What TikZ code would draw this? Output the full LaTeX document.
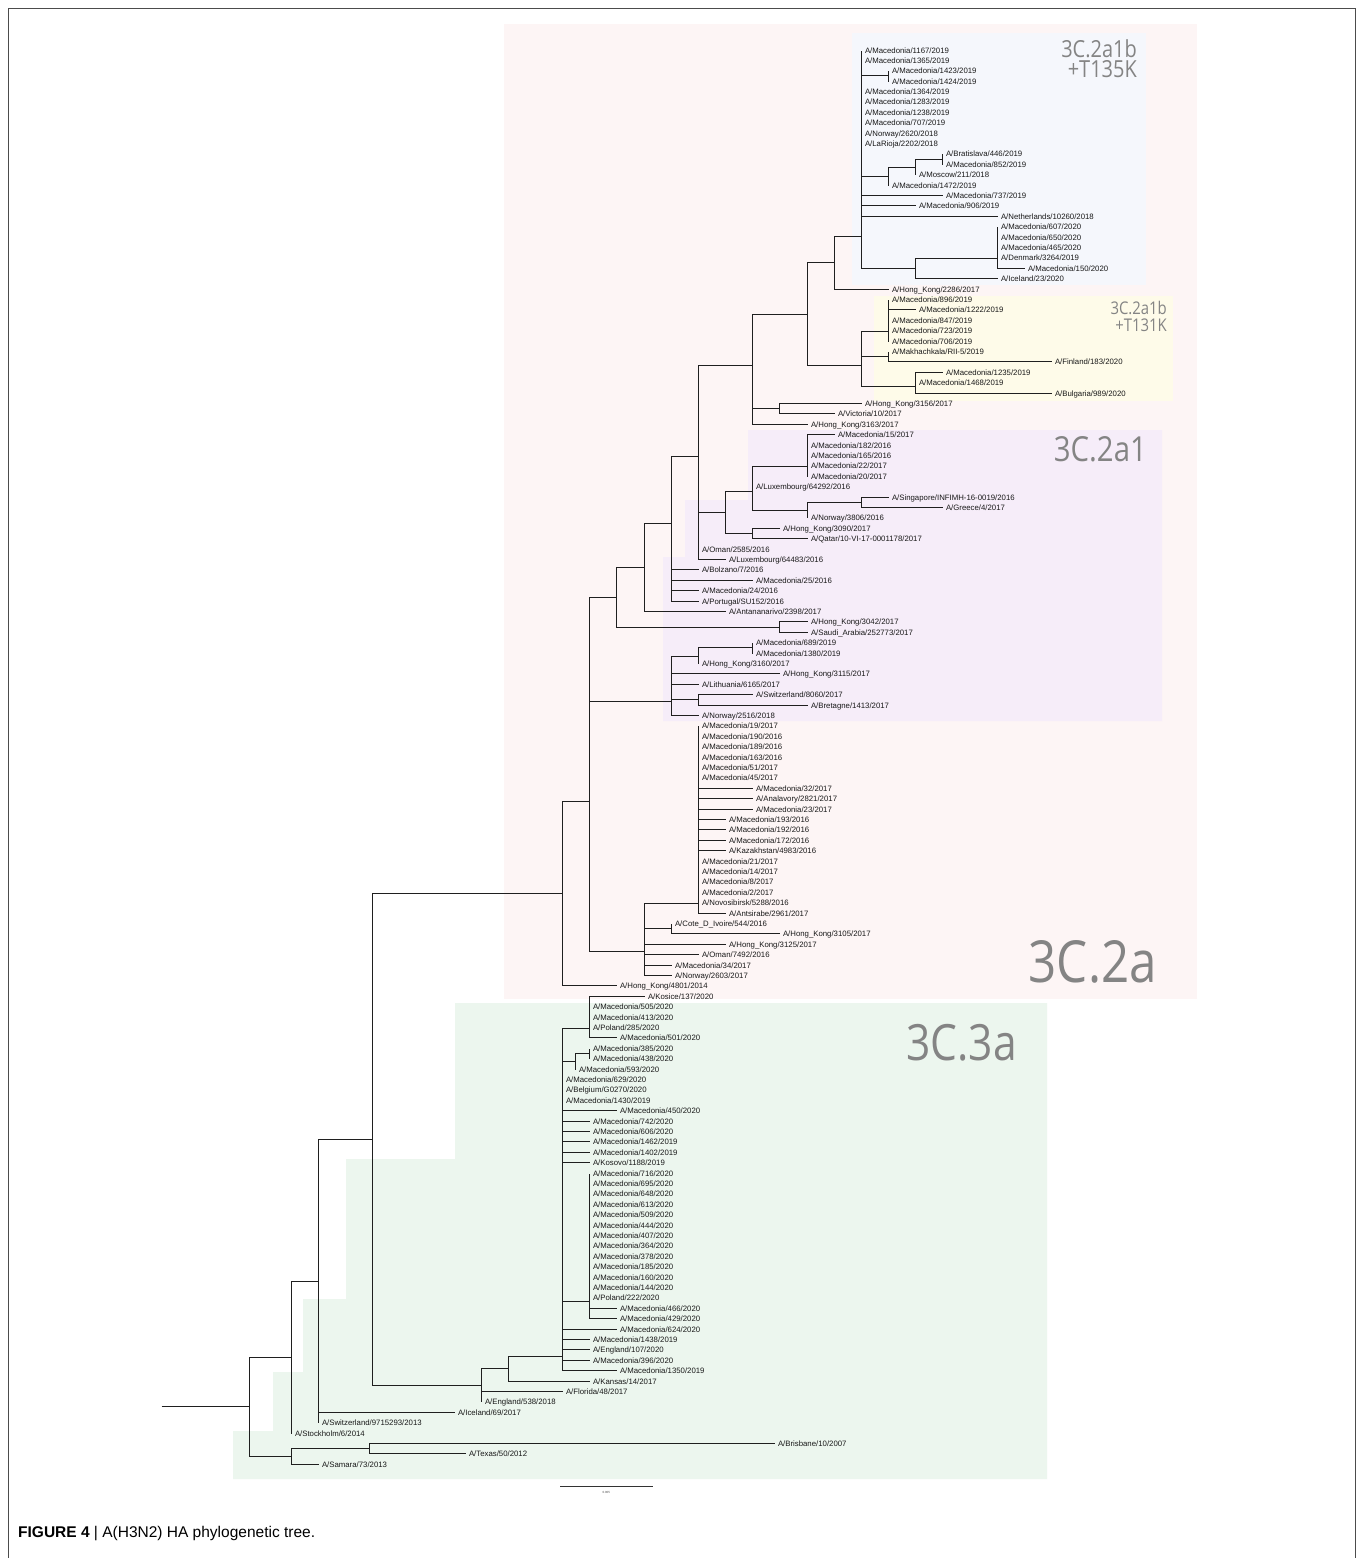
\documentclass[tikz,border=0pt]{standalone}
\usepackage{fontspec}
\setmainfont{Liberation Sans}
\newfontfamily\labfam{Liberation Sans}
\newfontfamily\cladefam[FakeStretch=0.85]{Open Sans}
\definecolor{pinkbg}{RGB}{253,245,245}
\definecolor{bluebg}{RGB}{245,247,252}
\definecolor{yellowbg}{RGB}{254,251,233}
\definecolor{purplebg}{RGB}{246,237,249}
\definecolor{greenbg}{RGB}{236,246,238}
\definecolor{cladegray}{RGB}{132,132,132}
\tikzset{
  br/.style={line width=1.35pt, draw=black!88},
  lab/.style={anchor=west, inner xsep=3.3pt, inner ysep=0pt, text height=5.6pt, text depth=0pt,
              font=\labfam\fontsize{7.8}{8}\selectfont, text=black!90},
  clade/.style={inner sep=0pt, text=cladegray, anchor=base east},
  frame/.style={line width=0.8pt, draw=black!70}
}
\pgfmathdeclarefunction{sn}{1}{\pgfmathparse{floor(#1)+0.5}}
\pgfmathdeclarefunction{gx}{1}{\pgfmathparse{floor(562.7+27.15*#1)+0.5}}
\pgfmathdeclarefunction{ly}{1}{\pgfmathparse{floor(50+(#1-1)*10.4)+0.5}}
\newcommand\lf[4]{\node[lab] (#1) at ({#3},{ly(#2)}) {#4};}
\newcommand\edges[2]{\draw[br] foreach \ch in {#2}{(#1) |- (\ch.west)};}
\newcommand\edgerange[3]{\draw[br] foreach \nn in {#2,...,#3}{(#1) |- (l\nn.west)};}
\begin{document}
\begin{tikzpicture}[x=1pt,y=-1pt]
\useasboundingbox (0,0) rectangle (1363,1558);
\fill[white] (0,0) rectangle (1363,1558);
% frame
\draw[frame] (8.5,1558) -- (8.5,8.5) -- (1355.5,8.5) -- (1355.5,1558);
% backgrounds
\fill[pinkbg] (504,24) rectangle (1197,999);
\fill[bluebg] (852,33) rectangle (1146,285);
\fill[yellowbg] (874,296) rectangle (1173,401);
\fill[purplebg] (748,430) -- (1162,430) -- (1162,721) -- (663,721) -- (663,557) -- (685,557) -- (685,500) -- (748,500) -- cycle;
\fill[greenbg] (455,1003) -- (1047,1003) -- (1047,1479) -- (233,1479) -- (233,1431) -- (273,1431) -- (273,1372) -- (303,1372) -- (303,1299) -- (346,1299) -- (346,1159) -- (455,1159) -- cycle;
% clade labels
\node[clade, font=\cladefam\fontsize{23.5}{23}\selectfont] (cl1a) at (1137,57) {3C.2a1b};
\node[clade, font=\cladefam\fontsize{23.5}{23}\selectfont] (cl1b) at (1137,77.5) {+T135K};
\node[clade, font=\cladefam\fontsize{17.5}{17}\selectfont] (cl2a) at (1167,314.5) {3C.2a1b};
\node[clade, font=\cladefam\fontsize{17.5}{17}\selectfont] (cl2b) at (1167,331.5) {+T131K};
\node[clade, font=\cladefam\fontsize{34.5}{35}\selectfont] (cl3) at (1147,461) {3C.2a1};
\node[clade, font=\cladefam\fontsize{58}{58}\selectfont] (cl4) at (1157,982) {3C.2a};
\node[clade, font=\cladefam\fontsize{50}{50}\selectfont] (cl5) at (1017,1060) {3C.3a};
% ---------------- leaves ----------------
\lf{l1}{1}{gx(11)}{A/Macedonia/1167/2019}
\lf{l2}{2}{gx(11)}{A/Macedonia/1365/2019}
\lf{l3}{3}{gx(12)}{A/Macedonia/1423/2019}
\lf{l4}{4}{gx(12)}{A/Macedonia/1424/2019}
\lf{l5}{5}{gx(11)}{A/Macedonia/1364/2019}
\lf{l6}{6}{gx(11)}{A/Macedonia/1283/2019}
\lf{l7}{7}{gx(11)}{A/Macedonia/1238/2019}
\lf{l8}{8}{gx(11)}{A/Macedonia/707/2019}
\lf{l9}{9}{gx(11)}{A/Norway/2620/2018}
\lf{l10}{10}{gx(11)}{A/LaRioja/2202/2018}
\lf{l11}{11}{gx(14)}{A/Bratislava/446/2019}
\lf{l12}{12}{gx(14)}{A/Macedonia/852/2019}
\lf{l13}{13}{gx(13)}{A/Moscow/211/2018}
\lf{l14}{14}{gx(12)}{A/Macedonia/1472/2019}
\lf{l15}{15}{gx(14)}{A/Macedonia/737/2019}
\lf{l16}{16}{gx(13)}{A/Macedonia/906/2019}
\lf{l17}{17}{gx(16)}{A/Netherlands/10260/2018}
\lf{l18}{18}{gx(16)}{A/Macedonia/607/2020}
\lf{l19}{19}{gx(16)}{A/Macedonia/650/2020}
\lf{l20}{20}{gx(16)}{A/Macedonia/465/2020}
\lf{l21}{21}{gx(16)}{A/Denmark/3264/2019}
\lf{l22}{22}{gx(17)}{A/Macedonia/150/2020}
\lf{l23}{23}{gx(16)}{A/Iceland/23/2020}
\lf{l24}{24}{gx(12)}{A/Hong\_Kong/2286/2017}
\lf{l25}{25}{gx(12)}{A/Macedonia/896/2019}
\lf{l26}{26}{gx(13)}{A/Macedonia/1222/2019}
\lf{l27}{27}{gx(12)}{A/Macedonia/847/2019}
\lf{l28}{28}{gx(12)}{A/Macedonia/723/2019}
\lf{l29}{29}{gx(12)}{A/Macedonia/706/2019}
\lf{l30}{30}{gx(12)}{A/Makhachkala/RII-5/2019}
\lf{l31}{31}{gx(18)}{A/Finland/183/2020}
\lf{l32}{32}{gx(14)}{A/Macedonia/1235/2019}
\lf{l33}{33}{gx(13)}{A/Macedonia/1468/2019}
\lf{l34}{34}{gx(18)}{A/Bulgaria/989/2020}
\lf{l35}{35}{gx(11)}{A/Hong\_Kong/3156/2017}
\lf{l36}{36}{gx(10)}{A/Victoria/10/2017}
\lf{l37}{37}{gx(9)}{A/Hong\_Kong/3163/2017}
\lf{l38}{38}{gx(10)}{A/Macedonia/15/2017}
\lf{l39}{39}{gx(9)}{A/Macedonia/182/2016}
\lf{l40}{40}{gx(9)}{A/Macedonia/165/2016}
\lf{l41}{41}{gx(9)}{A/Macedonia/22/2017}
\lf{l42}{42}{gx(9)}{A/Macedonia/20/2017}
\lf{l43}{43}{gx(7)}{A/Luxembourg/64292/2016}
\lf{l44}{44}{gx(12)}{A/Singapore/INFIMH-16-0019/2016}
\lf{l45}{45}{gx(14)}{A/Greece/4/2017}
\lf{l46}{46}{gx(9)}{A/Norway/3806/2016}
\lf{l47}{47}{gx(8)}{A/Hong\_Kong/3090/2017}
\lf{l48}{48}{gx(9)}{A/Qatar/10-VI-17-0001178/2017}
\lf{l49}{49}{gx(5)}{A/Oman/2585/2016}
\lf{l50}{50}{gx(6)}{A/Luxembourg/64483/2016}
\lf{l51}{51}{gx(5)}{A/Bolzano/7/2016}
\lf{l52}{52}{gx(7)}{A/Macedonia/25/2016}
\lf{l53}{53}{gx(5)}{A/Macedonia/24/2016}
\lf{l54}{54}{gx(5)}{A/Portugal/SU152/2016}
\lf{l55}{55}{gx(6)}{A/Antananarivo/2398/2017}
\lf{l56}{56}{gx(9)}{A/Hong\_Kong/3042/2017}
\lf{l57}{57}{gx(9)}{A/Saudi\_Arabia/252773/2017}
\lf{l58}{58}{gx(7)}{A/Macedonia/689/2019}
\lf{l59}{59}{gx(7)}{A/Macedonia/1380/2019}
\lf{l60}{60}{gx(5)}{A/Hong\_Kong/3160/2017}
\lf{l61}{61}{gx(8)}{A/Hong\_Kong/3115/2017}
\lf{l62}{62}{gx(5)}{A/Lithuania/6165/2017}
\lf{l63}{63}{gx(7)}{A/Switzerland/8060/2017}
\lf{l64}{64}{gx(9)}{A/Bretagne/1413/2017}
\lf{l65}{65}{gx(5)}{A/Norway/2516/2018}
\lf{l66}{66}{gx(5)}{A/Macedonia/19/2017}
\lf{l67}{67}{gx(5)}{A/Macedonia/190/2016}
\lf{l68}{68}{gx(5)}{A/Macedonia/189/2016}
\lf{l69}{69}{gx(5)}{A/Macedonia/163/2016}
\lf{l70}{70}{gx(5)}{A/Macedonia/51/2017}
\lf{l71}{71}{gx(5)}{A/Macedonia/45/2017}
\lf{l72}{72}{gx(7)}{A/Macedonia/32/2017}
\lf{l73}{73}{gx(7)}{A/Analavory/2821/2017}
\lf{l74}{74}{gx(7)}{A/Macedonia/23/2017}
\lf{l75}{75}{gx(6)}{A/Macedonia/193/2016}
\lf{l76}{76}{gx(6)}{A/Macedonia/192/2016}
\lf{l77}{77}{gx(6)}{A/Macedonia/172/2016}
\lf{l78}{78}{gx(6)}{A/Kazakhstan/4983/2016}
\lf{l79}{79}{gx(5)}{A/Macedonia/21/2017}
\lf{l80}{80}{gx(5)}{A/Macedonia/14/2017}
\lf{l81}{81}{gx(5)}{A/Macedonia/8/2017}
\lf{l82}{82}{gx(5)}{A/Macedonia/2/2017}
\lf{l83}{83}{gx(5)}{A/Novosibirsk/5288/2016}
\lf{l84}{84}{gx(6)}{A/Antsirabe/2961/2017}
\lf{l85}{85}{gx(4)}{A/Cote\_D\_Ivoire/544/2016}
\lf{l86}{86}{gx(8)}{A/Hong\_Kong/3105/2017}
\lf{l87}{87}{gx(6)}{A/Hong\_Kong/3125/2017}
\lf{l88}{88}{gx(5)}{A/Oman/7492/2016}
\lf{l89}{89}{gx(4)}{A/Macedonia/34/2017}
\lf{l90}{90}{gx(4)}{A/Norway/2603/2017}
\lf{l91}{91}{gx(2)}{A/Hong\_Kong/4801/2014}
\lf{l92}{92}{gx(3)}{A/Kosice/137/2020}
\lf{l93}{93}{gx(1)}{A/Macedonia/505/2020}
\lf{l94}{94}{gx(1)}{A/Macedonia/413/2020}
\lf{l95}{95}{gx(1)}{A/Poland/285/2020}
\lf{l96}{96}{gx(2)}{A/Macedonia/501/2020}
\lf{l97}{97}{gx(1)}{A/Macedonia/385/2020}
\lf{l98}{98}{gx(1)}{A/Macedonia/438/2020}
\lf{l99}{99}{575.5}{A/Macedonia/593/2020}
\lf{l100}{100}{gx(0)}{A/Macedonia/629/2020}
\lf{l101}{101}{gx(0)}{A/Belgium/G0270/2020}
\lf{l102}{102}{gx(0)}{A/Macedonia/1430/2019}
\lf{l103}{103}{gx(2)}{A/Macedonia/450/2020}
\lf{l104}{104}{gx(1)}{A/Macedonia/742/2020}
\lf{l105}{105}{gx(1)}{A/Macedonia/606/2020}
\lf{l106}{106}{gx(1)}{A/Macedonia/1462/2019}
\lf{l107}{107}{gx(1)}{A/Macedonia/1402/2019}
\lf{l108}{108}{gx(1)}{A/Kosovo/1188/2019}
\lf{l109}{109}{gx(1)}{A/Macedonia/716/2020}
\lf{l110}{110}{gx(1)}{A/Macedonia/695/2020}
\lf{l111}{111}{gx(1)}{A/Macedonia/648/2020}
\lf{l112}{112}{gx(1)}{A/Macedonia/613/2020}
\lf{l113}{113}{gx(1)}{A/Macedonia/509/2020}
\lf{l114}{114}{gx(1)}{A/Macedonia/444/2020}
\lf{l115}{115}{gx(1)}{A/Macedonia/407/2020}
\lf{l116}{116}{gx(1)}{A/Macedonia/364/2020}
\lf{l117}{117}{gx(1)}{A/Macedonia/378/2020}
\lf{l118}{118}{gx(1)}{A/Macedonia/185/2020}
\lf{l119}{119}{gx(1)}{A/Macedonia/160/2020}
\lf{l120}{120}{gx(1)}{A/Macedonia/144/2020}
\lf{l121}{121}{gx(1)}{A/Poland/222/2020}
\lf{l122}{122}{gx(2)}{A/Macedonia/466/2020}
\lf{l123}{123}{gx(2)}{A/Macedonia/429/2020}
\lf{l124}{124}{gx(2)}{A/Macedonia/624/2020}
\lf{l125}{125}{gx(1)}{A/Macedonia/1438/2019}
\lf{l126}{126}{gx(1)}{A/England/107/2020}
\lf{l127}{127}{gx(1)}{A/Macedonia/396/2020}
\lf{l128}{128}{gx(2)}{A/Macedonia/1350/2019}
\lf{l129}{129}{gx(1)}{A/Kansas/14/2017}
\lf{l130}{130}{gx(0)}{A/Florida/48/2017}
\lf{l131}{131}{gx(-3)}{A/England/538/2018}
\lf{l132}{132}{gx(-4)}{A/Iceland/69/2017}
\lf{l133}{133}{gx(-9)}{A/Switzerland/9715293/2013}
\lf{l134}{134}{gx(-10)}{A/Stockholm/6/2014}
\lf{l135}{135}{774.5}{A/Brisbane/10/2007}
\lf{l136}{136}{465.5}{A/Texas/50/2012}
\lf{l137}{137}{gx(-9)}{A/Samara/73/2013}
% ---------------- internal nodes ----------------
\coordinate (T) at ({gx(11)},{sn(236.7)});
\coordinate (T1) at ({gx(12)},{ly(3.5)});
\coordinate (T2) at ({gx(12)},{sn(176.1)});
\coordinate (T3) at ({gx(13)},{sn(167)});
\coordinate (T4) at ({gx(14)},{ly(11.5)});
\coordinate (T7) at ({gx(13)},{sn(268.65)});
\coordinate (T8) at ({gx(16)},{sn(258.5)});
\coordinate (P1) at ({gx(10)},{sn(262.95)});
\coordinate (Q) at ({gx(11)},{sn(365)});
\coordinate (Q1) at ({gx(12)},{sn(331.7)});
\coordinate (Q2) at ({gx(12)},{sn(356.8)});
\coordinate (Q3) at ({gx(13)},{sn(386)});
\coordinate (P2) at ({gx(9)},{sn(314)});
\coordinate (V) at ({gx(8)},{ly(35.5)});
\coordinate (P3) at ({gx(7)},{sn(365)});
\coordinate (C4) at ({gx(9)},{sn(466.7)});
\coordinate (C6) at ({gx(11)},{ly(44.5)});
\coordinate (C5) at ({gx(9)},{sn(510.2)});
\coordinate (C2) at ({gx(7)},{sn(491)});
\coordinate (C3) at ({gx(7)},{ly(47.5)});
\coordinate (C1) at ({gx(6)},{sn(512.3)});
\coordinate (P4) at ({gx(5)},{sn(456)});
\coordinate (P5) at ({gx(4)},{sn(523.8)});
\coordinate (P6) at ({gx(3)},{sn(567.7)});
\coordinate (S) at ({gx(8)},{ly(56.5)});
\coordinate (P7) at ({gx(2)},{sn(597.45)});
\coordinate (P9b) at ({gx(7)},{ly(58.5)});
\coordinate (P9a) at ({gx(5)},{sn(656)});
\coordinate (P9c) at ({gx(5)},{ly(63.5)});
\coordinate (P9) at ({gx(4)},{sn(701.7)});
\coordinate (M1) at ({gx(5)},{sn(903.3)});
\coordinate (CDI) at ({gx(4)},{ly(85.5)});
\coordinate (M) at ({gx(3)},{sn(951)});
\coordinate (P8) at ({gx(1)},{sn(801.6)});
\coordinate (P10) at ({gx(0)},{sn(893.8)});
\coordinate (K) at ({gx(1)},{sn(1028.3)});
\coordinate (K3) at ({gx(1)},{ly(97.5)});
\coordinate (K2) at (575.5,{sn(1061.4)});
\coordinate (K4) at ({gx(1)},{sn(1301.7)});
\coordinate (C3a) at ({gx(0)},{sn(1356)});
\coordinate (A4) at ({gx(-2)},{sn(1368.6)});
\coordinate (A3) at ({gx(-3)},{sn(1385.3)});
\coordinate (A2) at ({gx(-7)},{sn(1139.55)});
\coordinate (A1) at ({gx(-9)},{sn(1281.2)});
\coordinate (A) at ({gx(-10)},{sn(1357.2)});
\coordinate (B1) at (369.5,{ly(135.5)});
\coordinate (B) at ({gx(-10)},{sn(1456.6)});
\coordinate (R) at (249.5,{sn(1406.9)});
\coordinate (root) at (161.5,{sn(1406.9)});
% ---------------- branches ----------------
\edges{T}{l1,l2,T1,l5,l6,l7,l8,l9,l10,T2,l15,l16,l17,T7}
\edges{T1}{l3,l4}
\edges{T2}{T3,l14}
\edges{T3}{T4,l13}
\edges{T4}{l11,l12}
\edges{T7}{T8,l23}
\edges{T8}{l18,l19,l20,l21,l22}
\edges{P1}{T,l24}
\edges{Q}{Q1,Q2,Q3}
\edges{Q1}{l25,l26,l27,l28,l29}
\edges{Q2}{l30,l31}
\edges{Q3}{l32,l33,l34}
\edges{P2}{P1,Q}
\edges{V}{l35,l36}
\edges{P3}{P2,V,l37}
\edges{C4}{l38,l39,l40,l41,l42}
\edges{C6}{l44,l45}
\edges{C5}{C6,l46}
\edges{C2}{C4,l43,C5}
\edges{C3}{l47,l48}
\edges{C1}{C2,C3}
\edges{P4}{P3,C1,l49,l50}
\edges{P5}{P4,l51,l52,l53,l54}
\edges{P6}{P5,l55}
\edges{S}{l56,l57}
\edges{P7}{P6,S}
\edges{P9b}{l58,l59}
\edges{P9a}{P9b,l60}
\edges{P9c}{l63,l64}
\edges{P9}{P9a,l61,l62,P9c,l65}
\edgerange{M1}{66}{84}
\edges{CDI}{l85,l86}
\edges{M}{M1,CDI,l87,l88,l89,l90}
\edges{P8}{P7,P9,M}
\edges{P10}{P8,l91}
\edgerange{K}{92}{96}
\edges{K3}{l97,l98}
\edges{K2}{K3,l99}
\edgerange{K4}{109}{123}
\edges{C3a}{K,K2,l100,l101,l102,l103,l104,l105,l106,l107,l108,K4,l124,l125,l126,l127,l128}
\edges{A4}{C3a,l129}
\edges{A3}{A4,l130,l131}
\edges{A2}{P10,A3}
\edges{A1}{A2,l132,l133}
\edges{A}{A1,l134}
\edges{B1}{l135,l136}
\edges{B}{B1,l137}
\edges{R}{A,B}
\draw[br] (root) -- (R);
% scale bar
\coordinate (sb1) at (560,1486.5);
\coordinate (sb2) at (652.7,1486.5);
\draw[line width=0.8pt, draw=black!80] (sb1) -- (sb2);
\node[inner sep=0pt, font=\labfam\fontsize{3}{3}\selectfont, text=black!70] (sbt) at (606.3,1492) {0.005};
% caption
\node[anchor=base west, inner sep=0pt, font=\fontsize{15.5}{16}\selectfont] (cap) at (18,1537)
  {\textbf{FIGURE 4} | A(H3N2) HA phylogenetic tree.};
\end{tikzpicture}
\end{document}
